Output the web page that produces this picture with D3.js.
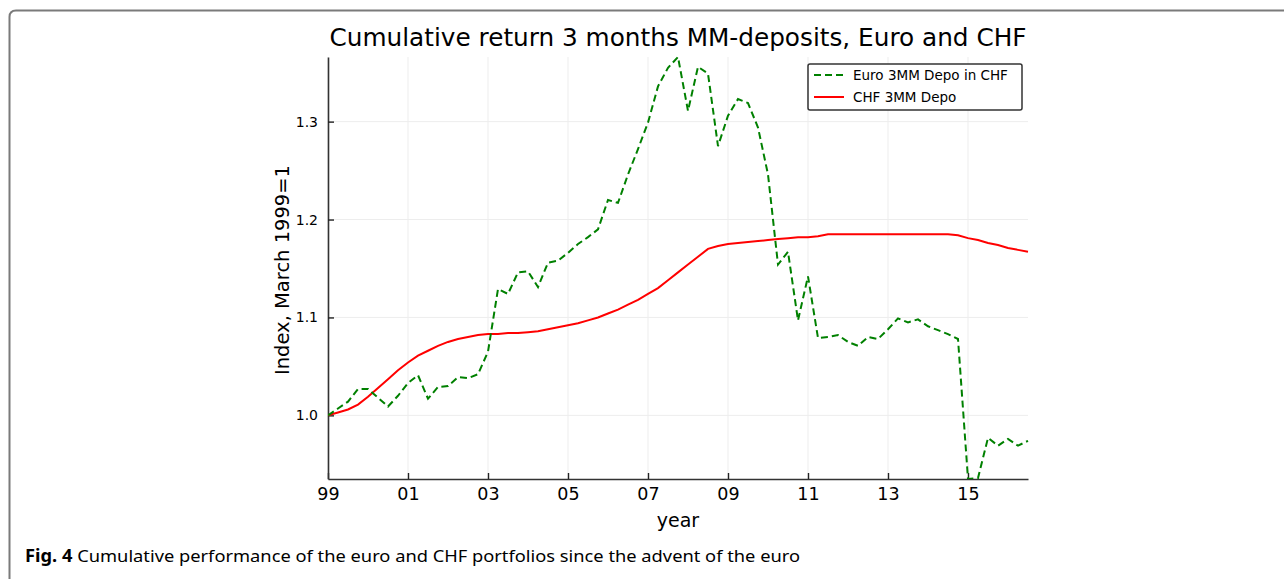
<!DOCTYPE html>
<html>
<head>
<meta charset="utf-8">
<title>Cumulative return 3 months MM-deposits</title>
<style>
  html, body { margin: 0; padding: 0; background: #fff; }
  svg { display: block; }
  text { font-family: "DejaVu Sans", sans-serif; fill: #000; }
  text.caption { font-family: "Noto Sans", "Open Sans", sans-serif; }
  .grid line { stroke: #ededed; stroke-width: 1; }
</style>
</head>
<body>
<svg width="1284" height="579"></svg>
<script src="https://cdn.jsdelivr.net/npm/d3@7"></script>
<script>
// quarterly observations, first quarter of 1999 onwards
var startYear = 1999;
var step = 0.25;

var euroInChf = [
  1.000, 1.007, 1.014, 1.027, 1.027, 1.018, 1.009, 1.020, 1.033, 1.041,
  1.017, 1.029, 1.030, 1.039, 1.038, 1.042, 1.065, 1.129, 1.124, 1.146,
  1.147, 1.131, 1.156, 1.158, 1.166, 1.175, 1.182, 1.190, 1.220, 1.217,
  1.246, 1.272, 1.299, 1.336, 1.355, 1.366, 1.311, 1.356, 1.349, 1.275,
  1.306, 1.323, 1.319, 1.294, 1.246, 1.154, 1.167, 1.097, 1.142, 1.079,
  1.080, 1.082, 1.075, 1.071, 1.080, 1.078, 1.088, 1.099, 1.095, 1.098,
  1.091, 1.087, 1.083, 1.078, 0.935, 0.936, 0.977, 0.969, 0.976, 0.969,
  0.974
];

var chfDepo = [
  1.000, 1.003, 1.006, 1.011, 1.019, 1.028, 1.037, 1.046, 1.054, 1.061,
  1.066, 1.071, 1.075, 1.078, 1.080, 1.082, 1.083, 1.083, 1.084, 1.084,
  1.085, 1.086, 1.088, 1.090, 1.092, 1.094, 1.097, 1.100, 1.104, 1.108,
  1.113, 1.118, 1.124, 1.130, 1.138, 1.146, 1.154, 1.162, 1.170, 1.173,
  1.175, 1.176, 1.177, 1.178, 1.179, 1.180, 1.181, 1.182, 1.182, 1.183,
  1.185, 1.185, 1.185, 1.185, 1.185, 1.185, 1.185, 1.185, 1.185, 1.185,
  1.185, 1.185, 1.185, 1.184, 1.181, 1.179, 1.176, 1.174, 1.171, 1.169,
  1.167
];

var xTickYears = [1999, 2001, 2003, 2005, 2007, 2009, 2011, 2013, 2015];
var xTickLabels = ["99", "01", "03", "05", "07", "09", "11", "13", "15"];
var yTicks = [1.0, 1.1, 1.2, 1.3];

var seriesNames = ["Euro 3MM Depo in CHF", "CHF 3MM Depo"];
var seriesColors = ["#008000", "#ff0000"];

var titleText = "Cumulative return 3 months MM-deposits, Euro and CHF";
var yLabelText = "Index, March 1999=1";
var xLabelText = "year";

var svg = d3.select("svg");

// card border
svg.append("path")
  .attr("d", "M 9.5 579 L 9.5 17 Q 9.5 10.5 16 10.5 L 1284 10.5")
  .attr("fill", "none")
  .attr("stroke", "#7a7a7a")
  .attr("stroke-width", 2);

var plotLeft = 328, plotRight = 1028, plotTop = 57, plotBottom = 479;

var years = euroInChf.map(function(d, i) { return startYear + i * step; });

var x = d3.scaleLinear()
  .domain([startYear, startYear + (euroInChf.length - 1) * step])
  .range([plotLeft, plotRight]);

var yExtent = d3.extent(euroInChf.concat(chfDepo));
var y = d3.scaleLinear()
  .domain(yExtent)
  .range([plotBottom, plotTop]);

// grid
var grid = svg.append("g").classed("grid", true);
grid.selectAll(".gx")
  .data(xTickYears)
  .enter().append("line")
    .attr("x1", function(d) { return x(d); })
    .attr("x2", function(d) { return x(d); })
    .attr("y1", plotTop)
    .attr("y2", plotBottom);
grid.selectAll(".gy")
  .data(yTicks)
  .enter().append("line")
    .attr("x1", plotLeft)
    .attr("x2", plotRight)
    .attr("y1", function(d) { return y(d); })
    .attr("y2", function(d) { return y(d); });

// axes
var xAxis = d3.axisBottom(x)
  .tickValues(xTickYears)
  .tickFormat(function(d, i) { return xTickLabels[i]; })
  .tickSizeInner(-6)
  .tickSizeOuter(0)
  .tickPadding(9);

var yAxis = d3.axisLeft(y)
  .tickValues(yTicks)
  .tickFormat(d3.format(".1f"))
  .tickSizeInner(-6)
  .tickSizeOuter(0)
  .tickPadding(10);

var gx = svg.append("g")
  .attr("transform", "translate(0," + plotBottom + ")")
  .call(xAxis);
gx.select(".domain").attr("stroke", "#333").attr("stroke-width", 1.6);
gx.selectAll(".tick line").attr("stroke", "#222").attr("stroke-width", 1.4);
gx.selectAll(".tick text")
  .attr("font-family", "DejaVu Sans")
  .attr("font-size", 17.5)
  .attr("fill", "#000");

var gy = svg.append("g")
  .attr("transform", "translate(" + plotLeft + ",0)")
  .call(yAxis);
gy.select(".domain").attr("stroke", "#333").attr("stroke-width", 1.6);
gy.selectAll(".tick line").attr("stroke", "#222").attr("stroke-width", 1.4);
gy.selectAll(".tick text")
  .attr("font-family", "DejaVu Sans")
  .attr("font-size", 14)
  .attr("fill", "#000");

// lines
var clip = svg.append("clipPath").attr("id", "plotClip");
clip.append("rect")
  .attr("x", plotLeft)
  .attr("y", plotTop - 2)
  .attr("width", plotRight - plotLeft + 2)
  .attr("height", plotBottom - plotTop + 2);

var line = d3.line()
  .x(function(d, i) { return x(years[i]); })
  .y(function(d) { return y(d); });

var plot = svg.append("g").attr("clip-path", "url(#plotClip)");

plot.append("path")
  .attr("d", line(chfDepo))
  .attr("fill", "none")
  .attr("stroke", seriesColors[1])
  .attr("stroke-width", 2);

plot.append("path")
  .attr("d", line(euroInChf))
  .attr("fill", "none")
  .attr("stroke", seriesColors[0])
  .attr("stroke-width", 2)
  .attr("stroke-dasharray", "7,4");

// title and labels
svg.append("text")
  .attr("x", 678)
  .attr("y", 46)
  .attr("text-anchor", "middle")
  .attr("font-size", 24)
  .attr("textLength", 697)
  .attr("lengthAdjust", "spacingAndGlyphs")
  .text(titleText);

svg.append("text")
  .attr("x", 678)
  .attr("y", 527)
  .attr("text-anchor", "middle")
  .attr("font-size", 19)
  .text(xLabelText);

svg.append("text")
  .attr("transform", "translate(289,270) rotate(-90)")
  .attr("text-anchor", "middle")
  .attr("font-size", 19)
  .attr("textLength", 210)
  .attr("lengthAdjust", "spacingAndGlyphs")
  .text(yLabelText);

// legend
var legend = svg.append("g").attr("transform", "translate(808,64)");
legend.append("rect")
  .attr("width", 214)
  .attr("height", 46)
  .attr("rx", 2)
  .attr("fill", "#fff")
  .attr("stroke", "#333")
  .attr("stroke-width", 1.5);

var entries = legend.selectAll(".entry")
  .data(seriesNames)
  .enter().append("g")
    .attr("transform", function(d, i) { return "translate(0," + (11 + i * 22) + ")"; });
entries.append("line")
  .attr("x1", 6)
  .attr("x2", 36)
  .attr("stroke", function(d, i) { return seriesColors[i]; })
  .attr("stroke-width", 2)
  .attr("stroke-dasharray", function(d, i) { return i === 0 ? "7,4" : null; });
entries.append("text")
  .attr("x", 45)
  .attr("y", 5)
  .attr("font-size", 13.5)
  .text(function(d) { return d; });

// caption
var cap = svg.append("text")
  .classed("caption", true)
  .attr("x", 25)
  .attr("y", 562)
  .attr("font-size", 17)
  .attr("textLength", 775)
  .attr("lengthAdjust", "spacingAndGlyphs");
cap.append("tspan")
  .attr("font-weight", "bold")
  .text("Fig. 4");
cap.append("tspan")
  .text(" Cumulative performance of the euro and CHF portfolios since the advent of the euro");
</script>
</body>
</html>
